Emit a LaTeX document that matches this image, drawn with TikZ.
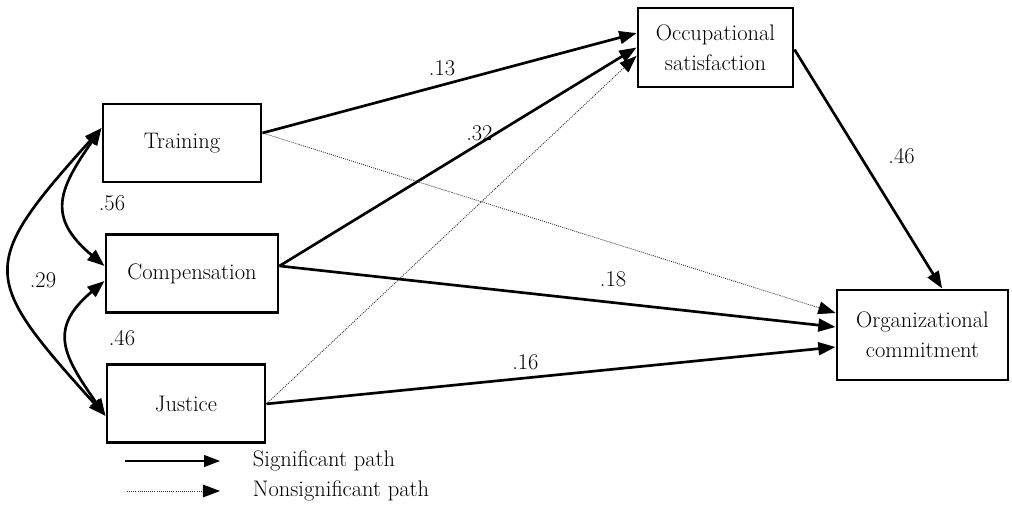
\documentclass[tikz,border=0pt]{standalone}
\usetikzlibrary{positioning, arrows.meta, calc}
\tikzset{
  var/.style={
    draw,
    rectangle,
    line width=2.1pt,
    minimum height=1.95cm,
    inner sep=0pt,
    align=center,
    font=\fontsize{16}{21.5}\selectfont
  },
  sigpath/.style={
    line width=1.9pt,
    -{Triangle[length=0.43cm, width=0.32cm]}
  },
  nspath/.style={
    line width=0.6pt,
    black!80,
    dash pattern=on 0.7pt off 0.8pt,
    -{Triangle[length=0.43cm, width=0.32cm, color=black]}
  },
  corr/.style={
    line width=1.9pt,
    {Triangle[length=0.43cm, width=0.32cm]}-{Triangle[length=0.43cm, width=0.32cm]}
  },
  coef/.style={font=\fontsize{16}{19}\selectfont}
}
\begin{document}
\begin{tikzpicture}
        \useasboundingbox (0,0) rectangle (25.3,-12.9);
        \node[var, minimum width=3.95cm] (training) at (4.55,-3.575) {Training};
        \node[var, minimum width=4.3cm, below=1.25cm of training, xshift=0.25cm] (compensation) {Compensation};
        \node[var, minimum width=3.95cm, below=1.225cm of compensation, xshift=-0.15cm] (justice) {Justice};
        \node[var, minimum width=3.875cm, minimum height=1.975cm] (occ) at (17.8875,-1.1875) {Occupational\\satisfaction};
        \node[var, minimum width=4.275cm, minimum height=2.25cm] (org) at (23.0625,-8.375) {Organizational\\commitment};
        
        % paths to satisfaction
        \draw[sigpath] ([yshift=0.25cm]training.east) -- node[coef, pos=0.48, yshift=0.43cm] {.13} ([yshift=0.36cm]occ.west);
        \draw[sigpath] ([yshift=0.2cm]compensation.east) -- node[coef, pos=0.56, yshift=0.25cm] {.32} (occ.west);
        \draw[nspath] (justice.east) -- ([yshift=-0.21cm]occ.west);
        
        % paths to commitment
        \draw[nspath] ([yshift=0.25cm]training.east) -- ([yshift=0.55cm]org.west);
        \draw[sigpath] ([yshift=0.2cm]compensation.east) -- node[coef, pos=0.6, yshift=0.58cm] {.18} ([yshift=0.2cm]org.west);
        \draw[sigpath] (justice.east) -- node[coef, pos=0.455, yshift=0.4cm] {.16} ([yshift=-0.3cm]org.west);
        \draw[sigpath] ([yshift=-0.05cm]occ.east) -- node[coef, pos=0.446, xshift=1.03cm] {.46} ([xshift=0.49cm]org.north);
        
        % correlations
        \draw[corr] ([yshift=0.375cm]training.west) to[out=235, in=140, looseness=1.4] ([yshift=0.2cm]compensation.west);
        \draw[corr] ([yshift=-0.175cm]compensation.west) to[out=220, in=125, looseness=1.4] ([yshift=-0.3cm]justice.west);
        \draw[corr] ([yshift=0.375cm]training.west) to[out=228, in=132, looseness=1.65] ([yshift=-0.3cm]justice.west);
        \node[coef] (rtc) at (2.8,-5.075) {.56};
        \node[coef] (rcj) at (3.05,-8.45) {.46};
        \node[coef] (rtj) at (1.075,-7.0) {.29};
        
        % legend
        \coordinate (sigA) at (3.125,-11.525);
        \coordinate (sigB) at (5.5,-11.525);
        \coordinate (nsA) at (3.175,-12.275);
        \coordinate (nsB) at (5.5,-12.275);
        \draw[line width=0.8pt, -{Triangle[length=0.4cm, width=0.3cm]}] (sigA) -- (sigB);
        \draw[nspath] (nsA) -- (nsB);
        \node[coef, anchor=west] (sigtxt) at (6.2,-11.525) {Significant path};
        \node[coef, anchor=west] (nstxt) at (6.2,-12.275) {Nonsignificant path};
      \end{tikzpicture}
\end{document}
